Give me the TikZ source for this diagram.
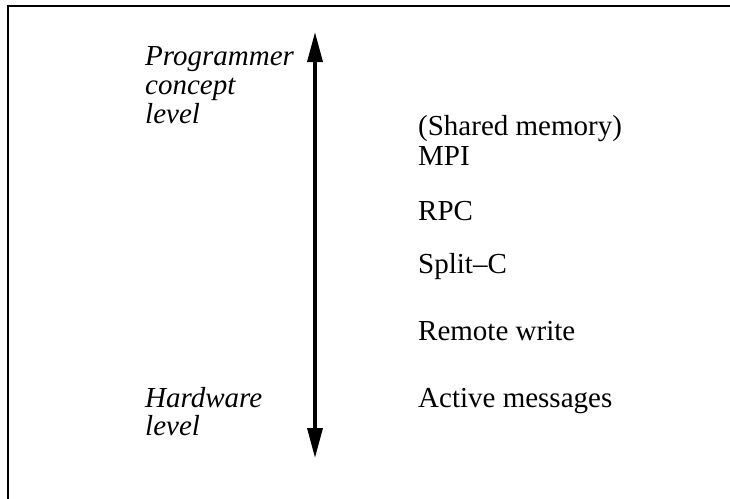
\documentclass[tikz,border=0pt]{standalone}
\usepackage{fontspec}
\setmainfont{Liberation Serif}
\usetikzlibrary{arrows.meta}
\begin{document}
\begin{tikzpicture}[x=1pt,y=-1pt,
  lbl/.style={anchor=base west,inner sep=0pt,font=\fontsize{29}{29}\selectfont},
  ilbl/.style={lbl,font=\fontsize{29}{29}\selectfont\itshape},
  frameline/.style={line width=2pt},
  level arrow/.style={line width=3.5pt,{Triangle[length=30pt,width=15pt]}-{Triangle[length=30pt,width=15pt]}}]
\useasboundingbox (0,0) rectangle (730,498);
\coordinate (fb) at (8,500);
\coordinate (fc) at (8,6);
\coordinate (fr) at (732,6);
\draw[frameline] (fb) -- (fc) -- (fr);
\coordinate (top) at (315,32);
\coordinate (bot) at (315,458);
\draw[level arrow] (top) -- (bot);
\node[ilbl] (p1) at (145,65) {Programmer};
\node[ilbl] (p2) at (145,94) {concept};
\node[ilbl] (p3) at (145,123) {level};
\node[ilbl] (h1) at (145,407) {Hardware};
\node[ilbl] (h2) at (145,435) {level};
\node[lbl] (sm) at (418,135) {(Shared memory)};
\node[lbl] (mpi) at (418,165) {MPI};
\node[lbl] (rpc) at (418,220) {RPC};
\node[lbl] (sc) at (418,273) {Split–C};
\node[lbl] (rw) at (418,340) {Remote write};
\node[lbl] (am) at (418,407) {Active messages};
\end{tikzpicture}
\end{document}
